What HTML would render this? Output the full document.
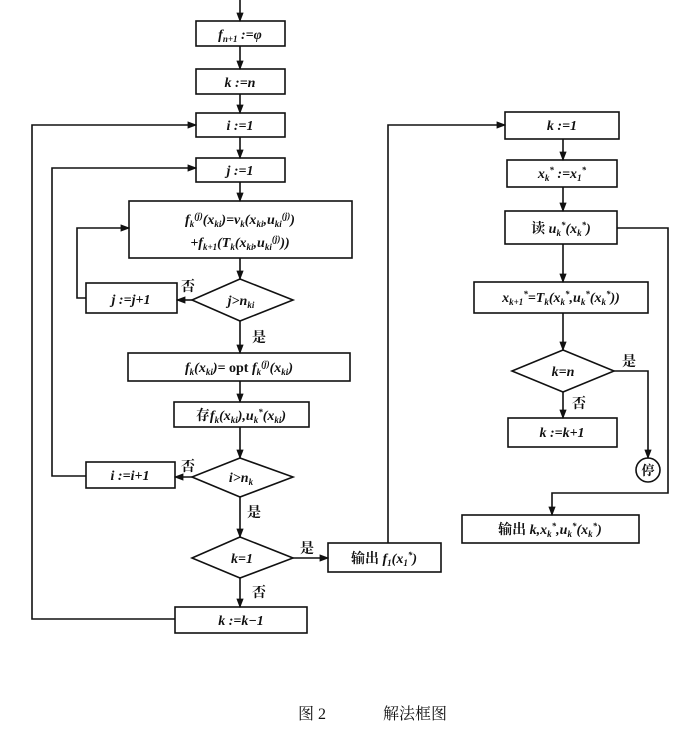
<!DOCTYPE html>
<html><head><meta charset="utf-8"><style>
html,body{margin:0;padding:0;background:#fff;}
svg{display:block;}
text{font-family:"Liberation Serif","Noto Serif CJK SC",serif;font-size:14px;fill:#111;font-weight:bold;}
.m{font-style:italic;}
.c{font-family:"Liberation Serif","Noto Serif CJK SC",serif;font-weight:bold;font-style:normal;}
.s{font-size:9px;}
</style></head><body>
<svg width="696" height="737" viewBox="0 0 696 737" xmlns="http://www.w3.org/2000/svg">
<defs><marker id="a" viewBox="0 0 8 8" refX="7" refY="4" markerWidth="6" markerHeight="6" orient="auto"><path d="M0,1 L8,4 L0,7 z" fill="#111"/></marker></defs>
<g fill="none" stroke="#111" stroke-width="1.6">
<!-- left boxes -->
<rect x="196" y="21" width="89" height="25"/>
<rect x="196" y="69" width="89" height="25"/>
<rect x="196" y="113" width="89" height="24"/>
<rect x="196" y="158" width="89" height="24"/>
<rect x="129" y="201" width="223" height="57"/>
<path d="M240,279 L293,300 L240,321 L192,300 Z"/>
<rect x="86" y="283" width="91" height="30"/>
<rect x="128" y="353" width="222" height="28"/>
<rect x="174" y="402" width="135" height="25"/>
<path d="M240,458 L293,477 L240,497 L192,477 Z"/>
<rect x="86" y="462" width="89" height="26"/>
<path d="M240,537 L293,558 L240,578 L192,558 Z"/>
<rect x="328" y="543" width="113" height="29"/>
<rect x="175" y="607" width="132" height="26"/>
<!-- right boxes -->
<rect x="505" y="112" width="114" height="27"/>
<rect x="507" y="160" width="110" height="27"/>
<rect x="505" y="211" width="112" height="33"/>
<rect x="474" y="282" width="174" height="31"/>
<path d="M563,350 L614,371 L563,392 L512,371 Z"/>
<rect x="508" y="418" width="109" height="29"/>
<circle cx="648" cy="470" r="12"/>
<rect x="462" y="515" width="177" height="28"/>
<!-- connectors left -->
<path d="M240,0 V21" marker-end="url(#a)"/>
<path d="M240,46 V69" marker-end="url(#a)"/>
<path d="M240,94 V113" marker-end="url(#a)"/>
<path d="M240,137 V158" marker-end="url(#a)"/>
<path d="M240,182 V201" marker-end="url(#a)"/>
<path d="M240,258 V279" marker-end="url(#a)"/>
<path d="M192,300 H177" marker-end="url(#a)"/>
<path d="M86,298 H77 V228 H129" marker-end="url(#a)"/>
<path d="M240,321 V353" marker-end="url(#a)"/>
<path d="M240,381 V402" marker-end="url(#a)"/>
<path d="M240,427 V458" marker-end="url(#a)"/>
<path d="M192,477 H175" marker-end="url(#a)"/>
<path d="M86,476 H52 V168 H196" marker-end="url(#a)"/>
<path d="M240,497 V537" marker-end="url(#a)"/>
<path d="M293,558 H328" marker-end="url(#a)"/>
<path d="M240,578 V607" marker-end="url(#a)"/>
<path d="M175,619 H32 V125 H196" marker-end="url(#a)"/>
<path d="M388,543 V125 H505" marker-end="url(#a)"/>
<!-- right connectors -->
<path d="M563,139 V160" marker-end="url(#a)"/>
<path d="M563,187 V211" marker-end="url(#a)"/>
<path d="M563,244 V282" marker-end="url(#a)"/>
<path d="M563,313 V350" marker-end="url(#a)"/>
<path d="M563,392 V418" marker-end="url(#a)"/>
<path d="M614,371 H648 V458" marker-end="url(#a)"/>
<path d="M617,228 H668 V493 H552 V515" marker-end="url(#a)"/>
</g>
<!-- labels -->
<text x="240" y="39" text-anchor="middle" class="m">f<tspan class="s" dy="3">n+1</tspan><tspan dy="-3"> :=φ</tspan></text>
<text x="240" y="87" text-anchor="middle" class="m">k :=n</text>
<text x="240" y="130" text-anchor="middle" class="m">i :=1</text>
<text x="240" y="175" text-anchor="middle" class="m">j :=1</text>
<text x="240" y="224" text-anchor="middle" class="m">f<tspan class="s" dy="3">k</tspan><tspan class="s" dy="-8">(j)</tspan><tspan dy="5">(x</tspan><tspan class="s" dy="3">ki</tspan><tspan dy="-3">)=v</tspan><tspan class="s" dy="3">k</tspan><tspan dy="-3">(x</tspan><tspan class="s" dy="3">ki</tspan><tspan dy="-3">,u</tspan><tspan class="s" dy="3">ki</tspan><tspan class="s" dy="-8">(j)</tspan><tspan dy="5">)</tspan></text>
<text x="240" y="247" text-anchor="middle" class="m">+f<tspan class="s" dy="3">k+1</tspan><tspan dy="-3">(T</tspan><tspan class="s" dy="3">k</tspan><tspan dy="-3">(x</tspan><tspan class="s" dy="3">ki</tspan><tspan dy="-3">,u</tspan><tspan class="s" dy="3">ki</tspan><tspan class="s" dy="-8">(j)</tspan><tspan dy="5">))</tspan></text>
<text x="241" y="305" text-anchor="middle" class="m">j&gt;n<tspan class="s" dy="3">ki</tspan></text>
<text x="131" y="304" text-anchor="middle" class="m">j :=j+1</text>
<text x="181" y="291" class="c">否</text>
<text x="252" y="342" class="c">是</text>
<text x="239" y="372" text-anchor="middle" class="m">f<tspan class="s" dy="3">k</tspan><tspan dy="-3">(x</tspan><tspan class="s" dy="3">ki</tspan><tspan dy="-3">)= </tspan><tspan style="font-style:normal">opt </tspan>f<tspan class="s" dy="3">k</tspan><tspan class="s" dy="-8">(j)</tspan><tspan dy="5">(x</tspan><tspan class="s" dy="3">ki</tspan><tspan dy="-3">)</tspan></text>
<text x="241" y="420" text-anchor="middle" class="m"><tspan class="c">存</tspan>f<tspan class="s" dy="3">k</tspan><tspan dy="-3">(x</tspan><tspan class="s" dy="3">ki</tspan><tspan dy="-3">),u</tspan><tspan class="s" dy="3">k</tspan><tspan class="s" dy="-8">*</tspan><tspan dy="5">(x</tspan><tspan class="s" dy="3">ki</tspan><tspan dy="-3">)</tspan></text>
<text x="241" y="482" text-anchor="middle" class="m">i&gt;n<tspan class="s" dy="3">k</tspan></text>
<text x="130" y="480" text-anchor="middle" class="m">i :=i+1</text>
<text x="181" y="471" class="c">否</text>
<text x="247" y="517" class="c">是</text>
<text x="242" y="563" text-anchor="middle" class="m">k=1</text>
<text x="300" y="553" class="c">是</text>
<text x="384" y="563" text-anchor="middle" class="m"><tspan class="c">输出 </tspan>f<tspan class="s" dy="3">1</tspan><tspan dy="-3">(x</tspan><tspan class="s" dy="3">1</tspan><tspan class="s" dy="-8">*</tspan><tspan dy="5">)</tspan></text>
<text x="252" y="597" class="c">否</text>
<text x="241" y="625" text-anchor="middle" class="m">k :=k−1</text>
<text x="562" y="130" text-anchor="middle" class="m">k :=1</text>
<text x="562" y="178" text-anchor="middle" class="m">x<tspan class="s" dy="3">k</tspan><tspan class="s" dy="-8">*</tspan><tspan dy="5"> :=x</tspan><tspan class="s" dy="3">1</tspan><tspan class="s" dy="-8">*</tspan></text>
<text x="561" y="233" text-anchor="middle" class="m"><tspan class="c">读 </tspan>u<tspan class="s" dy="3">k</tspan><tspan class="s" dy="-8">*</tspan><tspan dy="5">(x</tspan><tspan class="s" dy="3">k</tspan><tspan class="s" dy="-8">*</tspan><tspan dy="5">)</tspan></text>
<text x="561" y="302" text-anchor="middle" class="m">x<tspan class="s" dy="3">k+1</tspan><tspan class="s" dy="-8">*</tspan><tspan dy="5">=T</tspan><tspan class="s" dy="3">k</tspan><tspan dy="-3">(x</tspan><tspan class="s" dy="3">k</tspan><tspan class="s" dy="-8">*</tspan><tspan dy="5">,u</tspan><tspan class="s" dy="3">k</tspan><tspan class="s" dy="-8">*</tspan><tspan dy="5">(x</tspan><tspan class="s" dy="3">k</tspan><tspan class="s" dy="-8">*</tspan><tspan dy="5">))</tspan></text>
<text x="563" y="376" text-anchor="middle" class="m">k=n</text>
<text x="622" y="366" class="c">是</text>
<text x="572" y="408" class="c">否</text>
<text x="562" y="437" text-anchor="middle" class="m">k :=k+1</text>
<text x="648" y="475" text-anchor="middle" class="c" style="font-size:13px">停</text>
<text x="550" y="534" text-anchor="middle" class="m"><tspan class="c">输出 </tspan>k,x<tspan class="s" dy="3">k</tspan><tspan class="s" dy="-8">*</tspan><tspan dy="5">,u</tspan><tspan class="s" dy="3">k</tspan><tspan class="s" dy="-8">*</tspan><tspan dy="5">(x</tspan><tspan class="s" dy="3">k</tspan><tspan class="s" dy="-8">*</tspan><tspan dy="5">)</tspan></text>
<text x="298" y="719" style="font-weight:normal;font-size:16px">图 2</text>
<text x="383" y="719" style="font-weight:normal;font-size:16px">解法框图</text>
</svg>
</body></html>
